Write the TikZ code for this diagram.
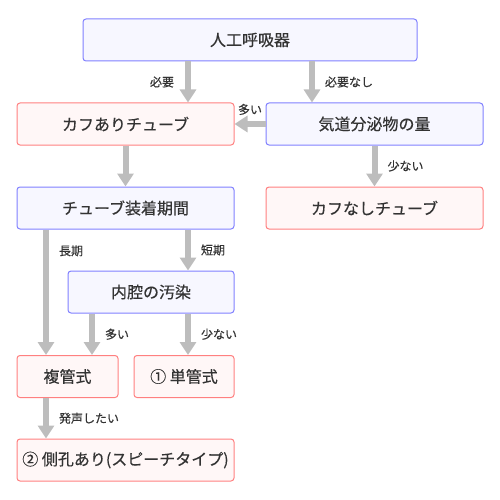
\documentclass[tikz,border=0pt]{standalone}
\usepackage{fontspec}
\setmainfont[FakeBold = 0.4]{Noto Sans CJK JP}
\usepackage{tikz}
\usetikzlibrary{arrows.meta}
\definecolor{bfill}{HTML}{F7F7FF}
\definecolor{bline}{HTML}{8080FF}
\definecolor{rfill}{HTML}{FFF7F7}
\definecolor{rline}{HTML}{FF8080}
\definecolor{tgray}{HTML}{333333}
\definecolor{agray}{HTML}{BDBDBD}
\tikzset{box/.style = {draw, rounded corners = 3, line width = 1, minimum height = 42, inner sep = 0, text = tgray, font = \fontsize{16}{18}\selectfont}}
\tikzset{bbox/.style = {box, draw = bline, fill = bfill}}
\tikzset{rbox/.style = {box, draw = rline, fill = rfill}}
\tikzset{flow/.style = {draw = agray, line width = 6, -{Triangle[length = 13pt, width = 16pt]}}}
\tikzset{lbl/.style = {text = tgray, inner sep = 0, font = \fontsize{12}{14}\selectfont}}

\begin{document}
\begin{tikzpicture}[x = 1pt, y = -1pt]
      \useasboundingbox (0, 0) rectangle (500, 500);

      \node [bbox, minimum width = 334] (vent) at (250, 40) {人工呼吸器};
      \node [rbox, minimum width = 217] (cuff) at (125.5, 124) {カフありチューブ};
      \node [bbox, minimum width = 217] (secr) at (374.5, 124) {気道分泌物の量};
      \node [bbox, minimum width = 217] (term) at (125.5, 208) {チューブ装着期間};
      \node [rbox, minimum width = 217] (nocuff) at (374.5, 208) {カフなしチューブ};
      \node [bbox, minimum width = 166] (lumen) at (151, 292) {内腔の汚染};
      \node [rbox, minimum width = 101] (multi) at (67.5, 376.5) {複管式};
      \node [rbox, minimum width = 100] (single) at (184, 376.5) {① 単管式};
      \node [rbox, minimum width = 217] (side) at (125.5, 460) {② 側孔あり(スピーチタイプ)};

      \draw [flow] (vent.south -| 188, 0) -- (cuff.north -| 188, 0) node [lbl, midway, left = 11pt] {必要};
      \draw [flow] (vent.south -| 312, 0) -- (secr.north -| 312, 0) node [lbl, midway, right = 10pt] {必要なし};
      \draw [flow] (secr.west) -- (cuff.east) node [lbl, midway, above = 6pt] {多い};
      \draw [flow] (cuff.south) -- (term.north);
      \draw [flow] (secr.south) -- (nocuff.north) node [lbl, midway, right = 10pt] {少ない};

      \draw [flow] (term.south -| 46, 0) -- (multi.north -| 46, 0) node [lbl, pos = 0.17, right = 10pt] {長期};
      \draw [flow] (term.south -| 188, 0) -- (lumen.north -| 188, 0) node [lbl, midway, right = 10pt] {短期};
      \draw [flow] (lumen.south -| 92, 0) -- (multi.north -| 92, 0) node [lbl, midway, right = 10pt] {多い};
      \draw [flow] (lumen.south -| 188, 0) -- (single.north -| 188, 0) node [lbl, midway, right = 10pt] {少ない};
      \draw [flow] (multi.south -| 46, 0) -- (side.north -| 46, 0) node [lbl, midway, right = 10pt] {発声したい};
    \end{tikzpicture}
\end{document}
